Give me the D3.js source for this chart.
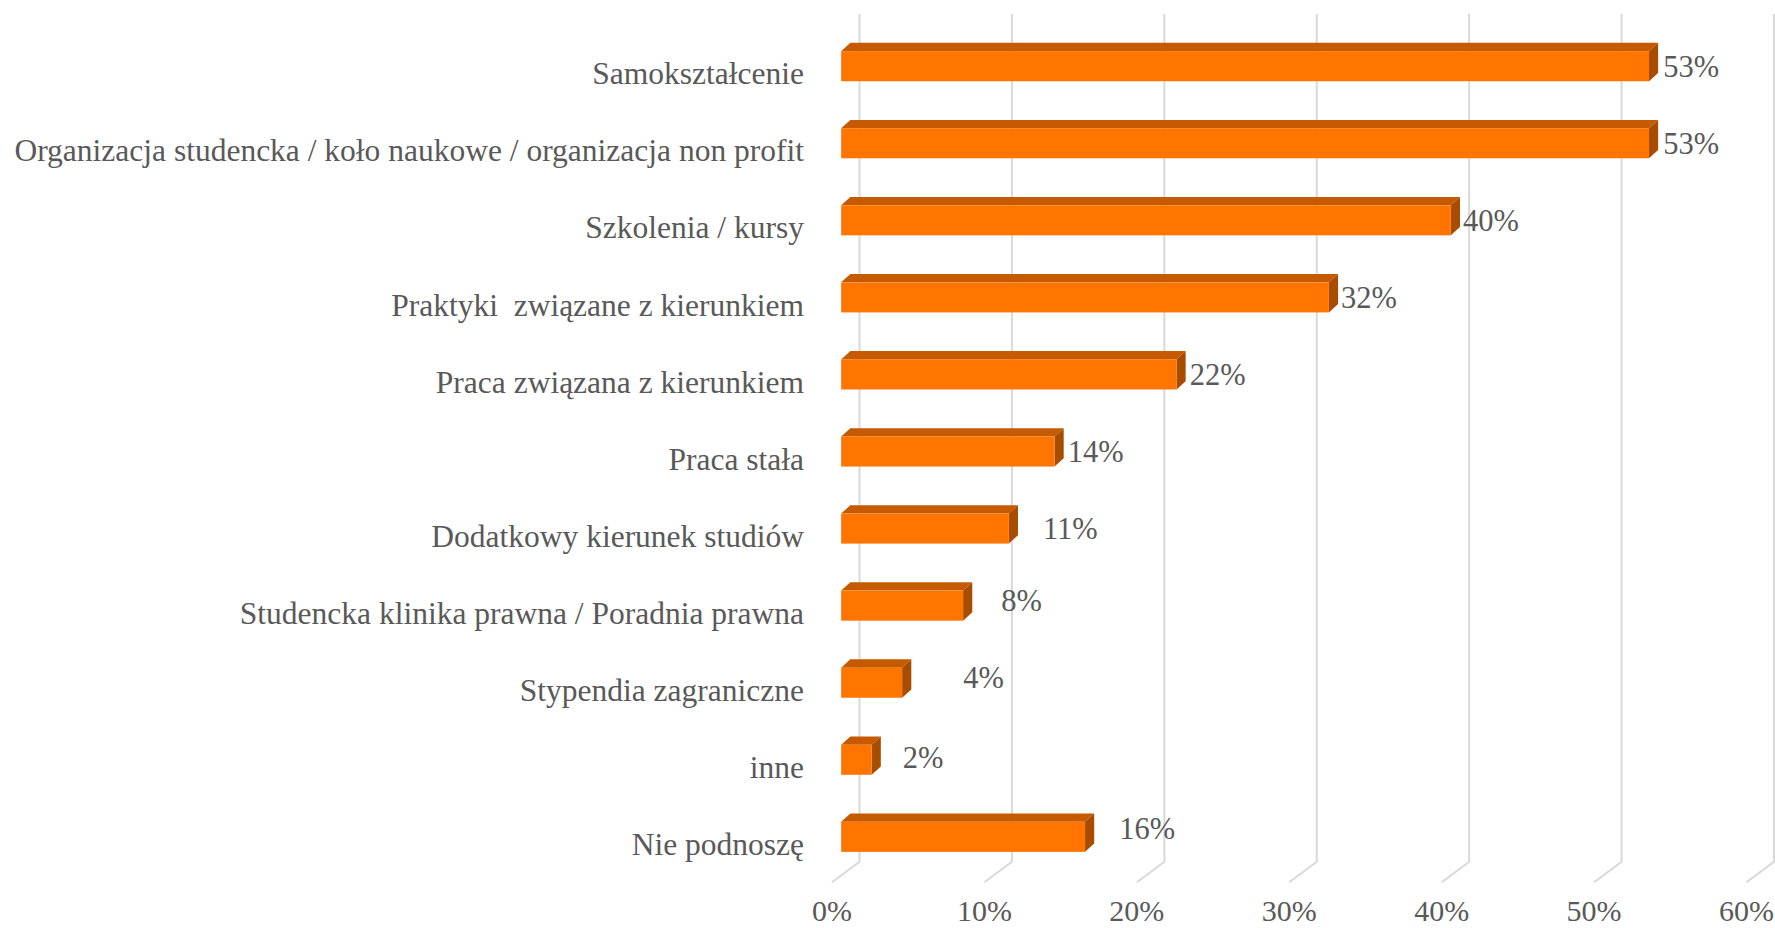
<!DOCTYPE html>
<html>
<head>
<meta charset="utf-8">
<script src="https://cdn.jsdelivr.net/npm/d3@7"></script>
<style>
  body { margin: 0; background: #fff; }
  text { font-family: Garamond, 'Liberation Serif', serif; fill: #595959; white-space: pre; }
</style>
</head>
<body>
<div id="chart"></div>
<script>
// categories, top to bottom
const categories = [
    'Samokształcenie',
    'Organizacja studencka / koło naukowe / organizacja non profit',
    'Szkolenia / kursy',
    'Praktyki  związane z kierunkiem',
    'Praca związana z kierunkiem',
    'Praca stała',
    'Dodatkowy kierunek studiów',
    'Studencka klinika prawna / Poradnia prawna',
    'Stypendia zagraniczne',
    'inne',
    'Nie podnoszę'
];
const values = [0.53, 0.53, 0.40, 0.32, 0.22, 0.14, 0.11, 0.08, 0.04, 0.02, 0.16];
const valueLabels = ['53%', '53%', '40%', '32%', '22%', '14%', '11%', '8%', '4%', '2%', '16%'];
const ticks = [0, 0.1, 0.2, 0.3, 0.4, 0.5, 0.6];

// hand placed data labels in the original (extra gap after bar, vertical shift)
const labelGap = [5, 5, 3, 3, 4, 4, 25, 29, 52, 22, 25];
const labelShift = [0, 0, 0, 0, 0, 0, 0, -5, -5, -2, -9];

const width = 1775;
const height = 928;

const svg = d3.select('#chart').append('svg')
    .attr('width', width)
    .attr('height', height);

// back wall of the 3d plot
const x = d3.scaleLinear().domain([0, 0.6]).range([859.5, 1774]);
const y = d3.scaleBand().domain(categories).range([14, 861.7]).paddingInner(0.61).paddingOuter(0.305);

// depth vector from back wall to front edge of the floor
const depthX = -27.5, depthY = 20.5;
// bars sit in the middle third of the depth
const barFrontX = depthX * 2 / 3, barFrontY = depthY * 2 / 3;
const barDepthX = -depthX / 3, barDepthY = -depthY / 3 - 1.5;

// gridlines on back wall + floor
const grid = svg.append('g').attr('stroke', '#d9d9d9').attr('stroke-width', 2).attr('fill', 'none');
grid.selectAll('path')
    .data(ticks)
    .enter()
    .append('path')
    .attr('d', function (d) {
        const bx = x(d);
        return 'M' + bx + ',' + y.range()[0] + 'L' + bx + ',' + y.range()[1] +
            'L' + (bx + depthX) + ',' + (y.range()[1] + depthY);
    });

// tick labels along front edge of floor
svg.append('g')
    .selectAll('text')
    .data(ticks)
    .enter()
    .append('text')
    .attr('x', function (d) { return x(d) + depthX; })
    .attr('y', 921)
    .attr('text-anchor', 'middle')
    .attr('font-size', 30)
    .text(d3.format('.0%'));

// bars
const bars = svg.append('g')
    .selectAll('g')
    .data(values)
    .enter()
    .append('g');

function fx(v) { return x(v) + barFrontX; }
function fy(i) { return y(categories[i]) + barFrontY; }
const bh = y.bandwidth();

// top face
bars.append('path')
    .attr('fill', '#c55a00')
    .attr('d', function (d, i) {
        const x0 = fx(0), x1 = fx(d), y0 = fy(i);
        return 'M' + x0 + ',' + y0 + 'L' + (x0 + barDepthX) + ',' + (y0 + barDepthY) +
            'L' + (x1 + barDepthX) + ',' + (y0 + barDepthY) + 'L' + x1 + ',' + y0 + 'Z';
    });
// side face
bars.append('path')
    .attr('fill', '#a84c00')
    .attr('d', function (d, i) {
        const x1 = fx(d), y0 = fy(i);
        return 'M' + x1 + ',' + y0 + 'L' + (x1 + barDepthX) + ',' + (y0 + barDepthY) +
            'L' + (x1 + barDepthX) + ',' + (y0 + bh + barDepthY) + 'L' + x1 + ',' + (y0 + bh) + 'Z';
    });
// front face
bars.append('rect')
    .attr('fill', '#ff7500')
    .attr('x', fx(0))
    .attr('y', function (d, i) { return fy(i); })
    .attr('width', function (d) { return fx(d) - fx(0); })
    .attr('height', bh);

// value labels
svg.append('g')
    .selectAll('text')
    .data(values)
    .enter()
    .append('text')
    .attr('x', function (d, i) { return fx(d) + barDepthX + labelGap[i]; })
    .attr('y', function (d, i) { return fy(i) + bh / 2 + labelShift[i]; })
    .attr('dy', '0.35em')
    .attr('font-size', 30.5)
    .text(function (d, i) { return valueLabels[i]; });

// category labels
svg.append('g')
    .selectAll('text')
    .data(categories)
    .enter()
    .append('text')
    .attr('x', 804)
    .attr('y', function (d) { return y(d) + y.bandwidth() / 2 + depthY; })
    .attr('dy', '0.36em')
    .attr('text-anchor', 'end')
    .attr('font-size', 31.5)
    .text(function (d) { return d; });
</script>
</body>
</html>
